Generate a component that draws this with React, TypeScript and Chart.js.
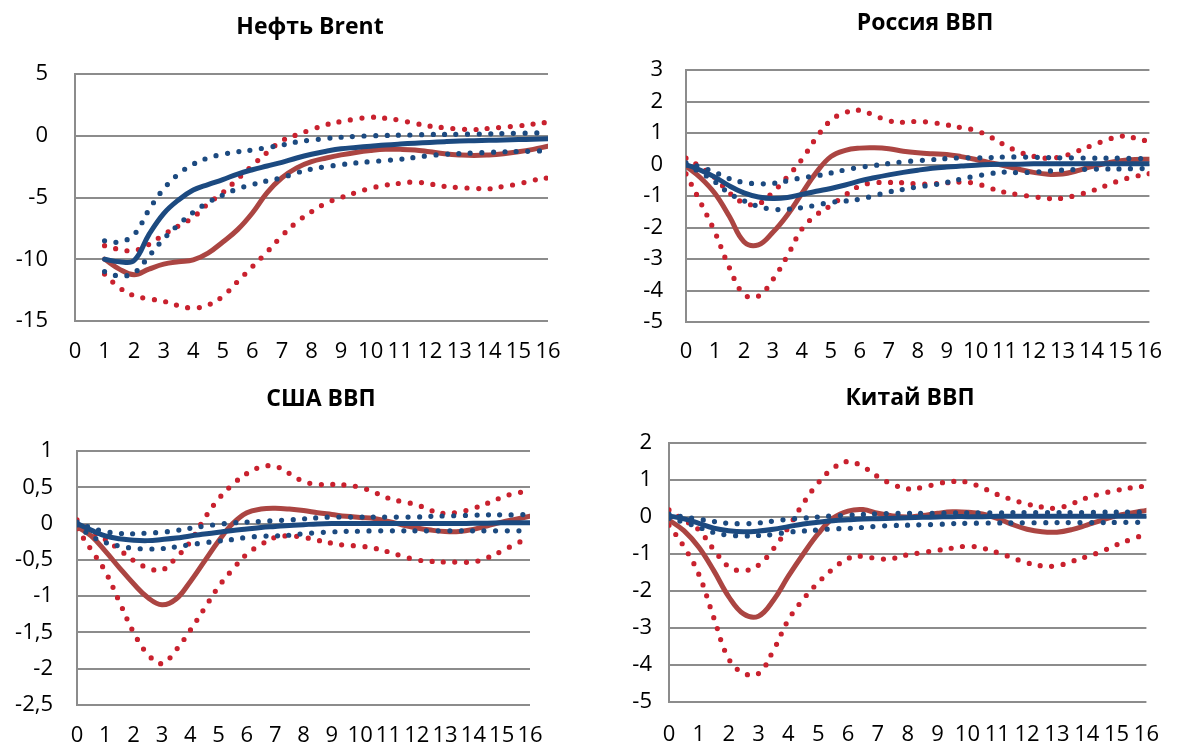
import React, { useEffect, useRef } from 'react';
import { Chart, registerables } from 'chart.js';

Chart.register(...registerables);

// ---- shared axes ----
const X_STEPS = [0, 0.5, 1, 1.5, 2, 2.5, 3, 3.5, 4, 4.5, 5, 5.5, 6, 6.5, 7, 7.5, 8, 8.5, 9, 9.5, 10, 10.5, 11, 11.5, 12, 12.5, 13, 13.5, 14, 14.5, 15, 15.5, 16];
const X_TICKS = [0, 1, 2, 3, 4, 5, 6, 7, 8, 9, 10, 11, 12, 13, 14, 15, 16];

// ---- Нефть Brent ----
const BRENT_Y_TICKS = [5, 0, -5, -10, -15];
const BRENT_BLUE = [null, null, -10.0, -10.2, -10.1, -8.0, -6.3, -5.2, -4.4, -3.95, -3.55, -3.1, -2.75, -2.45, -2.15, -1.8, -1.5, -1.25, -1.05, -0.95, -0.85, -0.75, -0.67, -0.6, -0.54, -0.48, -0.43, -0.4, -0.37, -0.34, -0.31, -0.28, -0.25];
const BRENT_BLUE_UP = [null, null, -8.5, -8.6, -8.0, -6.0, -4.3, -3.1, -2.3, -1.8, -1.5, -1.3, -1.15, -0.95, -0.75, -0.5, -0.35, -0.22, -0.12, -0.05, 0.0, 0.02, 0.05, 0.07, 0.1, 0.11, 0.12, 0.14, 0.15, 0.18, 0.2, 0.22, 0.25];
const BRENT_BLUE_LO = [null, null, -11.0, -11.35, -11.1, -9.75, -8.35, -7.2, -6.2, -5.4, -4.8, -4.3, -3.95, -3.65, -3.4, -3.0, -2.7, -2.5, -2.34, -2.2, -2.1, -2.0, -1.9, -1.75, -1.6, -1.5, -1.45, -1.4, -1.35, -1.3, -1.27, -1.25, -1.2];
const BRENT_RED = [null, null, -10.0, -10.8, -11.25, -10.8, -10.4, -10.2, -10.05, -9.5, -8.6, -7.6, -6.25, -4.6, -3.4, -2.6, -2.1, -1.8, -1.55, -1.35, -1.2, -1.1, -1.1, -1.15, -1.3, -1.45, -1.55, -1.6, -1.55, -1.45, -1.3, -1.1, -0.85];
const BRENT_RED_UP = [null, null, -8.9, -9.2, -9.3, -8.8, -8.0, -7.3, -6.6, -5.5, -4.6, -3.5, -2.4, -1.35, -0.4, 0.08, 0.5, 0.9, 1.15, 1.35, 1.5, 1.42, 1.25, 1.0, 0.78, 0.65, 0.55, 0.5, 0.6, 0.7, 0.8, 0.95, 1.1];
const BRENT_RED_LO = [null, null, -11.2, -12.3, -12.95, -13.2, -13.4, -13.75, -13.95, -13.7, -13.0, -11.8, -10.6, -9.4, -8.1, -7.0, -6.15, -5.45, -5.0, -4.6, -4.25, -4.0, -3.85, -3.75, -3.9, -4.1, -4.2, -4.25, -4.3, -4.1, -3.9, -3.6, -3.4];

// ---- Россия ВВП ----
const RU_Y_TICKS = [3, 2, 1, 0, -1, -2, -3, -4, -5];
const RU_BLUE = [0, -0.18, -0.4, -0.68, -0.9, -1.03, -1.08, -1.05, -0.95, -0.85, -0.76, -0.65, -0.52, -0.42, -0.33, -0.25, -0.18, -0.12, -0.08, -0.05, -0.02, 0, 0.01, 0.01, 0.02, 0.02, 0.02, 0.02, 0.02, 0.02, 0.02, 0.02, 0.02];
const RU_BLUE_UP = [0.05, -0.08, -0.25, -0.45, -0.57, -0.61, -0.6, -0.52, -0.42, -0.36, -0.27, -0.17, -0.09, -0.03, 0.03, 0.085, 0.12, 0.155, 0.19, 0.21, 0.21, 0.22, 0.24, 0.24, 0.23, 0.22, 0.21, 0.21, 0.2, 0.2, 0.2, 0.19, 0.19];
const RU_BLUE_LO = [-0.02, -0.25, -0.55, -0.92, -1.15, -1.33, -1.42, -1.42, -1.37, -1.29, -1.2, -1.16, -1.1, -0.99, -0.87, -0.79, -0.71, -0.65, -0.57, -0.46, -0.37, -0.29, -0.24, -0.26, -0.24, -0.21, -0.18, -0.16, -0.15, -0.14, -0.14, -0.13, -0.13];
const RU_RED = [-0.05, -0.42, -0.92, -1.65, -2.45, -2.55, -2.15, -1.6, -0.92, -0.25, 0.25, 0.45, 0.52, 0.53, 0.5, 0.42, 0.37, 0.34, 0.32, 0.25, 0.16, 0.06, -0.04, -0.15, -0.25, -0.31, -0.3, -0.2, -0.07, 0.04, 0.12, 0.16, 0.17];
const RU_RED_UP = [0.2, -0.07, -0.42, -0.9, -1.22, -1.25, -0.88, -0.39, 0.16, 0.85, 1.4, 1.65, 1.72, 1.56, 1.39, 1.34, 1.37, 1.33, 1.26, 1.17, 1.08, 0.88, 0.62, 0.4, 0.26, 0.2, 0.26, 0.42, 0.6, 0.77, 0.9, 0.84, 0.72];
const RU_RED_LO = [-0.3, -1.2, -2.15, -3.28, -4.12, -4.18, -3.65, -2.9, -2.05, -1.6, -1.3, -0.97, -0.68, -0.58, -0.57, -0.58, -0.62, -0.61, -0.58, -0.56, -0.6, -0.75, -0.88, -0.96, -1.02, -1.08, -1.07, -0.97, -0.84, -0.67, -0.5, -0.38, -0.29];

// ---- США ВВП ----
const US_Y_TICKS = [1, 0.5, 0, -0.5, -1, -1.5, -2, -2.5];
const US_BLUE = [0, -0.09, -0.17, -0.21, -0.23, -0.235, -0.22, -0.2, -0.17, -0.145, -0.12, -0.095, -0.075, -0.055, -0.04, -0.025, -0.015, -0.005, 0, 0, 0, 0, 0, 0, 0, 0, 0, 0, 0.005, 0.005, 0.01, 0.01, 0.01];
const US_BLUE_UP = [0.02, -0.06, -0.11, -0.135, -0.14, -0.13, -0.12, -0.095, -0.065, -0.035, -0.01, 0.01, 0.02, 0.03, 0.04, 0.05, 0.065, 0.08, 0.09, 0.09, 0.09, 0.09, 0.09, 0.09, 0.09, 0.1, 0.105, 0.11, 0.115, 0.12, 0.12, 0.12, 0.13];
const US_BLUE_LO = [-0.02, -0.17, -0.26, -0.31, -0.34, -0.35, -0.345, -0.32, -0.29, -0.265, -0.24, -0.22, -0.19, -0.175, -0.17, -0.16, -0.14, -0.125, -0.115, -0.107, -0.105, -0.1, -0.1, -0.1, -0.1, -0.1, -0.1, -0.1, -0.1, -0.1, -0.1, -0.1, -0.1];
const US_RED = [-0.04, -0.17, -0.38, -0.61, -0.83, -1.02, -1.12, -1.04, -0.8, -0.52, -0.24, 0.0, 0.15, 0.2, 0.21, 0.2, 0.18, 0.15, 0.125, 0.1, 0.085, 0.07, 0.03, -0.02, -0.06, -0.09, -0.11, -0.11, -0.08, -0.03, 0.02, 0.06, 0.1];
const US_RED_UP = [0.05, -0.1, -0.22, -0.36, -0.51, -0.61, -0.64, -0.47, -0.25, 0.07, 0.34, 0.54, 0.69, 0.78, 0.79, 0.69, 0.58, 0.54, 0.54, 0.53, 0.5, 0.43, 0.35, 0.3, 0.26, 0.18, 0.14, 0.16, 0.21, 0.28, 0.36, 0.42, 0.44];
const US_RED_LO = [-0.07, -0.36, -0.66, -1.08, -1.5, -1.8, -1.93, -1.74, -1.47, -1.17, -0.87, -0.63, -0.42, -0.29, -0.19, -0.17, -0.19, -0.23, -0.27, -0.3, -0.31, -0.34, -0.39, -0.45, -0.5, -0.52, -0.53, -0.53, -0.53, -0.47, -0.38, -0.28, -0.19];

// ---- Китай ВВП ----
const CN_Y_TICKS = [2, 1, 0, -1, -2, -3, -4, -5];
const CN_BLUE = [0.03, -0.05, -0.17, -0.3, -0.37, -0.4, -0.38, -0.33, -0.26, -0.19, -0.14, -0.1, -0.075, -0.055, -0.045, -0.035, -0.02, -0.01, 0, 0.01, 0.01, 0.01, 0.02, 0.02, 0.02, 0.02, 0.02, 0.02, 0.02, 0.02, 0.02, 0.02, 0.02];
const CN_BLUE_UP = [0.08, 0.0, -0.06, -0.12, -0.17, -0.18, -0.16, -0.11, -0.06, -0.03, 0.0, 0.03, 0.045, 0.07, 0.085, 0.095, 0.1, 0.1, 0.1, 0.11, 0.11, 0.11, 0.11, 0.12, 0.12, 0.12, 0.12, 0.12, 0.12, 0.13, 0.13, 0.13, 0.13];
const CN_BLUE_LO = [-0.04, -0.14, -0.28, -0.42, -0.49, -0.51, -0.5, -0.47, -0.41, -0.38, -0.35, -0.32, -0.31, -0.28, -0.25, -0.23, -0.22, -0.21, -0.2, -0.18, -0.17, -0.165, -0.16, -0.16, -0.155, -0.155, -0.15, -0.15, -0.15, -0.15, -0.145, -0.145, -0.145];
const CN_RED = [-0.08, -0.37, -0.82, -1.45, -2.15, -2.62, -2.68, -2.25, -1.6, -1.0, -0.45, -0.03, 0.16, 0.2, 0.1, 0.03, 0.0, 0.04, 0.1, 0.14, 0.13, 0.08, -0.04, -0.2, -0.33, -0.4, -0.41, -0.34, -0.22, -0.09, 0.03, 0.11, 0.18];
const CN_RED_UP = [0.19, -0.08, -0.35, -0.88, -1.34, -1.45, -1.3, -0.86, -0.28, 0.37, 0.92, 1.32, 1.5, 1.36, 1.09, 0.88, 0.76, 0.8, 0.9, 0.96, 0.94, 0.79, 0.61, 0.47, 0.35, 0.27, 0.24, 0.36, 0.52, 0.63, 0.72, 0.79, 0.84];
const CN_RED_LO = [-0.22, -0.8, -1.55, -2.72, -3.83, -4.22, -4.23, -3.6, -2.78, -2.22, -1.77, -1.4, -1.12, -1.06, -1.13, -1.12, -1.02, -0.96, -0.9, -0.84, -0.79, -0.84, -0.96, -1.1, -1.24, -1.32, -1.32, -1.2, -1.07, -0.93, -0.75, -0.6, -0.46];

// ---- styles ----
const BLUE = '#1c4a80';
const RED_LINE = '#ab4542';
const RED_DOT = '#c9212e';
const GRID = '#8c8c8c';
const FONT = "'Open Sans', 'DejaVu Sans', sans-serif";

type Series = {
  blue: (number | null)[];
  blueUp: (number | null)[];
  blueLo: (number | null)[];
  red: (number | null)[];
  redUp: (number | null)[];
  redLo: (number | null)[];
};

type PanelCfg = {
  title: string;
  left: number;
  top: number;
  width: number;
  height: number;
  plot: { l: number; r: number; t: number; b: number };
  titleX: number;
  titleY: number;
  yTicks: number[];
  comma: boolean;
  yPad: number;
  xPad: number;
  series: Series;
};

const PANELS: PanelCfg[] = [
  {
    title: 'Нефть Brent', left: 0, top: 0, width: 590, height: 370,
    plot: { l: 75, r: 548, t: 74, b: 321 }, titleX: 310, titleY: 26,
    yTicks: BRENT_Y_TICKS, comma: false, yPad: 27, xPad: 18,
    series: { blue: BRENT_BLUE, blueUp: BRENT_BLUE_UP, blueLo: BRENT_BLUE_LO, red: BRENT_RED, redUp: BRENT_RED_UP, redLo: BRENT_RED_LO },
  },
  {
    title: 'Россия ВВП', left: 590, top: 0, width: 589, height: 370,
    plot: { l: 96, r: 562, t: 70, b: 322 }, titleX: 925, titleY: 22,
    yTicks: RU_Y_TICKS, comma: false, yPad: 23, xPad: 17,
    series: { blue: RU_BLUE, blueUp: RU_BLUE_UP, blueLo: RU_BLUE_LO, red: RU_RED, redUp: RU_RED_UP, redLo: RU_RED_LO },
  },
  {
    title: 'США ВВП', left: 0, top: 370, width: 590, height: 377,
    plot: { l: 77, r: 530, t: 81, b: 335 }, titleX: 321, titleY: 398,
    yTicks: US_Y_TICKS, comma: true, yPad: 24, xPad: 18,
    series: { blue: US_BLUE, blueUp: US_BLUE_UP, blueLo: US_BLUE_LO, red: US_RED, redUp: US_RED_UP, redLo: US_RED_LO },
  },
  {
    title: 'Китай ВВП', left: 590, top: 370, width: 589, height: 377,
    plot: { l: 79, r: 563, t: 73, b: 332 }, titleX: 910, titleY: 397,
    yTicks: CN_Y_TICKS, comma: false, yPad: 17, xPad: 20,
    series: { blue: CN_BLUE, blueUp: CN_BLUE_UP, blueLo: CN_BLUE_LO, red: CN_RED, redUp: CN_RED_UP, redLo: CN_RED_LO },
  },
];

function toPoints(arr: (number | null)[]) {
  return X_STEPS.map((x, i) => ({ x, y: arr[i] }));
}

function solid(arr: (number | null)[], color: string) {
  return {
    data: toPoints(arr),
    borderColor: color,
    backgroundColor: color,
    borderWidth: 5,
    borderCapStyle: 'round',
    borderJoinStyle: 'round',
    pointRadius: 0,
    pointHoverRadius: 0,
    tension: 0.4,
    fill: false,
  };
}

function dotted(arr: (number | null)[], color: string) {
  return {
    data: toPoints(arr),
    borderColor: color,
    backgroundColor: color,
    borderWidth: 5.2,
    borderDash: [0, 11.5],
    borderCapStyle: 'round',
    borderJoinStyle: 'round',
    pointRadius: 0,
    pointHoverRadius: 0,
    tension: 0.4,
    fill: false,
  };
}

function Panel({ cfg }: { cfg: PanelCfg }) {
  const ref = useRef<HTMLCanvasElement>(null);
  useEffect(() => {
    if (!ref.current) return;
    const { plot, width, height, yTicks, series, comma } = cfg;
    const chart = new Chart(ref.current, {
      type: 'line',
      data: {
        datasets: [
          solid(series.blue, BLUE),
          dotted(series.blueUp, BLUE),
          dotted(series.blueLo, BLUE),
          solid(series.red, RED_LINE),
          dotted(series.redUp, RED_DOT),
          dotted(series.redLo, RED_DOT),
        ] as any,
      },
      options: {
        animation: false,
        responsive: false,
        events: [],
        layout: { padding: { left: 0, top: plot.t, right: width - plot.r, bottom: 0 } },
        plugins: {
          legend: { display: false },
          tooltip: { enabled: false },
          title: { display: false },
        },
        scales: {
          x: {
            type: 'linear',
            min: 0,
            max: 16,
            afterBuildTicks: (s: any) => {
              s.ticks = X_TICKS.map((v) => ({ value: v }));
            },
            afterFit: (s: any) => {
              s.height = height - plot.b;
            },
            grid: { display: false, drawTicks: false },
            border: { display: false },
            ticks: {
              autoSkip: false,
              maxRotation: 0,
              minRotation: 0,
              padding: cfg.xPad,
              color: '#000',
              font: { family: FONT, size: 22 },
              callback: (v: any) => String(v),
            },
          },
          y: {
            type: 'linear',
            min: yTicks[yTicks.length - 1],
            max: yTicks[0],
            afterBuildTicks: (s: any) => {
              s.ticks = yTicks.slice().reverse().map((v) => ({ value: v }));
            },
            afterFit: (s: any) => {
              s.width = plot.l;
            },
            grid: { color: GRID, lineWidth: 2, drawTicks: false },
            border: { display: true, color: GRID, width: 2 },
            ticks: {
              padding: cfg.yPad,
              color: '#000',
              font: { family: FONT, size: 22 },
              callback: (v: any) => (comma ? String(v).replace('.', ',') : String(v)),
            },
          },
        },
      } as any,
    });
    return () => chart.destroy();
  }, [cfg]);

  return (
    <>
      <canvas
        ref={ref}
        width={cfg.width}
        height={cfg.height}
        style={{ position: 'absolute', left: cfg.left, top: cfg.top, width: cfg.width, height: cfg.height, display: 'block' }}
      />
      <div
        style={{
          position: 'absolute',
          left: cfg.titleX - 200,
          top: cfg.titleY - 16,
          width: 400,
          height: 30,
          lineHeight: '30px',
          textAlign: 'center',
          fontFamily: FONT,
          fontWeight: 700,
          fontSize: 23,
          color: '#000',
          whiteSpace: 'nowrap',
        }}
      >
        {cfg.title}
      </div>
    </>
  );
}

export default function App() {
  return (
    <div style={{ position: 'absolute', left: 0, top: 0, width: 1179, height: 747, background: '#fff', overflow: 'hidden' }}>
      {PANELS.map((p) => (
        <Panel key={p.title} cfg={p} />
      ))}
    </div>
  );
}
